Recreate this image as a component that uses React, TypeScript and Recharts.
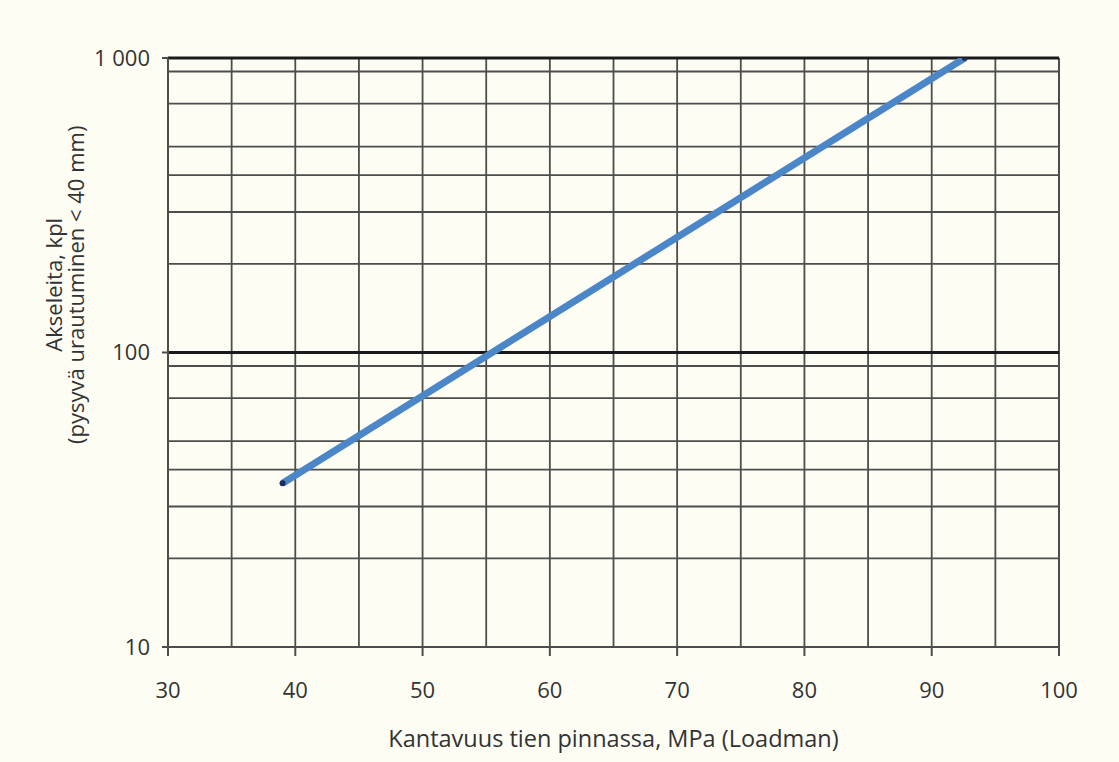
import React from "react";
import { LineChart, Line, XAxis, YAxis, CartesianGrid, ReferenceLine } from "recharts";

// axle load line (log scale on y)
const curve = [
  { mpa: 39, axles: 36 },
  { mpa: 92.6, axles: 1000 },
];

const xTicks = [30, 40, 50, 60, 70, 80, 90, 100];
const xGrid = [35, 40, 45, 50, 55, 60, 65, 70, 75, 80, 85, 90, 95];
const yTicks = [10, 100, 1000];
const yMinor = [20, 30, 40, 50, 60, 70, 80, 90, 200, 300, 400, 500, 600, 700, 800, 900];
const yMajor = [100, 1000];

const FONT = "'Open Sans', sans-serif";
const TXT = "#333";
const GRID = "#4d4d4d";

const fmtY = (v: number) => (v === 1000 ? "1 000" : String(v));

function YLabel(props: any) {
  const vb = props.viewBox || { x: 0, y: 0, width: 0, height: 0 };
  const cy = vb.y + vb.height * 0.385;
  const x1 = vb.x - 35;
  const x2 = vb.x - 13;
  return (
    <g fill={TXT} fontFamily={FONT} fontSize={22}>
      <text x={x1} y={cy} textAnchor="middle" dominantBaseline="central" transform={`rotate(-90 ${x1} ${cy})`}>
        Akseleita, kpl
      </text>
      <text x={x2} y={cy} textAnchor="middle" dominantBaseline="central" transform={`rotate(-90 ${x2} ${cy})`}>
        (pysyvä urautuminen &lt; 40 mm)
      </text>
    </g>
  );
}

function XLabel(props: any) {
  const vb = props.viewBox || { x: 0, y: 0, width: 0, height: 0 };
  return (
    <text x={vb.x + vb.width / 2 + 0} y={vb.y + 91} textAnchor="middle" dominantBaseline="central" fill={TXT} fontFamily={FONT} fontSize={23.5}>
      Kantavuus tien pinnassa, MPa (Loadman)
    </text>
  );
}

export default function App() {
  return (
    <div style={{ position: "absolute", left: 0, top: 0, width: 1119, height: 762, background: "#fdfdf4" }}>
      <LineChart width={1119} height={762} data={curve} margin={{ top: 58, right: 60, bottom: 35, left: 88 }}>
        <CartesianGrid
          stroke={GRID}
          strokeWidth={1.8}
          verticalValues={xGrid}
          horizontalValues={yMinor}
        />
        <XAxis
          dataKey="mpa"
          type="number"
          domain={[30, 100]}
          ticks={xTicks}
          allowDataOverflow
          height={80}
          tickSize={9}
          tickMargin={26}
          axisLine={{ stroke: GRID, strokeWidth: 2 }}
          tickLine={{ stroke: GRID, strokeWidth: 2 }}
          tick={{ fill: TXT, fontFamily: FONT, fontSize: 22 }}
          label={<XLabel />}
        />
        <YAxis
          dataKey="axles"
          scale="log"
          type="number"
          domain={[10, 1000]}
          ticks={yTicks}
          allowDataOverflow
          width={80}
          tickSize={6}
          tickMargin={12}
          tickFormatter={fmtY}
          axisLine={{ stroke: GRID, strokeWidth: 2 }}
          tickLine={{ stroke: GRID, strokeWidth: 2 }}
          tick={{ fill: TXT, fontFamily: FONT, fontSize: 22 }}
          label={<YLabel />}
        />
        <ReferenceLine x={100} stroke={GRID} strokeWidth={2} />
        {yMajor.map((v) => (
          <ReferenceLine key={v} y={v} stroke="#1a1a1a" strokeWidth={3} />
        ))}
        <Line
          dataKey="axles"
          stroke="#4a86c8"
          strokeWidth={7}
          dot={{ r: 3, fill: "#1c2c5c", stroke: "none" }}
          isAnimationActive={false}
        />
      </LineChart>
    </div>
  );
}
